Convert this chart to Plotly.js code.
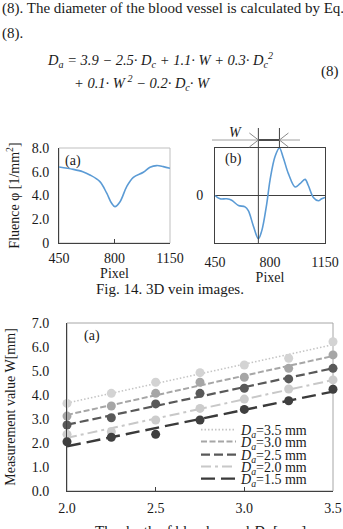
<!DOCTYPE html>
<html>
<head>
<meta charset="utf-8">
<script src="https://cdn.plot.ly/plotly-3.0.1.min.js"></script>
<style>
  html, body { margin: 0; padding: 0; background: #fff; }
  #fig { width: 343px; height: 529px; }
</style>
</head>
<body>
<div id="fig"></div>
<script>
// ---- (a) fluence profile across the vein ----
const pixelA = [450, 540, 600, 645, 708, 751, 782, 803, 835, 877, 919, 982, 1024, 1066, 1108, 1150];
const fluenceA = [6.4, 6.2, 6.0, 5.73, 5.17, 4.19, 3.34, 3.06, 3.48, 4.75, 5.53, 5.96, 6.38, 6.52, 6.43, 6.29];

// ---- (b) differentiated profile (arbitrary units) ----
const pixelB = [450, 482, 524, 556, 599, 641, 662, 694, 726, 747, 779, 800, 832, 860, 885, 917, 960, 991, 1023, 1044, 1076, 1108, 1129, 1150];
const signalB = [0, -0.07, -0.07, -0.1, -0.21, -0.24, -0.32, -0.64, -0.91, -0.75, -0.18, 0.32, 0.82, 1.0, 0.79, 0.46, 0.18, 0.25, 0.34, 0.21, -0.04, -0.11, -0.07, -0.04];

// ---- measured width W versus vessel depth Dc, one list per diameter Da ----
const depthDc = [2.0, 2.25, 2.5, 2.75, 3.0, 3.25, 3.5];
const widthDa35 = [3.65, 4.07, 4.53, 4.93, 5.25, 5.53, 6.22];
const widthDa30 = [3.12, 3.54, 4.07, 4.53, 4.74, 5.11, 5.67];
const widthDa25 = [2.75, 3.05, 3.63, 4.07, 4.28, 4.67, 5.11];
const widthDa20 = [2.36, 2.47, 2.96, 3.44, 3.83, 4.25, 4.63];
const widthDa15 = [2.05, 2.24, 2.36, 2.96, 3.40, 3.76, 4.24];
const seriesNames = ['<i>D</i><sub><i>a</i></sub>=3.5 mm', '<i>D</i><sub><i>a</i></sub>=3.0 mm',
  '<i>D</i><sub><i>a</i></sub>=2.5 mm', '<i>D</i><sub><i>a</i></sub>=2.0 mm', '<i>D</i><sub><i>a</i></sub>=1.5 mm'];
const depthTitle = 'The depth of blood vessel <i>D</i><sub><i>c</i></sub> [mm]';

// ---- figure geometry (pixel -> paper fraction) ----
const FW = 343, FH = 529;
const fx = p => p / FW;
const fy = p => 1 - p / FH;

const serif = 'Liberation Serif, Times New Roman, serif';
const ink = '#1a1a1a';
const axisDark = '#404040';
const frameLight = '#bfbfbf';
const blue = '#5B9BD5';

// least-squares straight line through one series
function linearFit(xs, ys) {
  const n = xs.length;
  const mx = xs.reduce((a, b) => a + b, 0) / n;
  const my = ys.reduce((a, b) => a + b, 0) / n;
  let sxy = 0, sxx = 0;
  for (let i = 0; i < n; i++) { sxy += (xs[i] - mx) * (ys[i] - my); sxx += (xs[i] - mx) ** 2; }
  const k = sxy / sxx;
  const x0 = xs[0], x1 = xs[n - 1];
  return { x: [x0, x1], y: [my + k * (x0 - mx), my + k * (x1 - mx)] };
}

const seriesW = [widthDa35, widthDa30, widthDa25, widthDa20, widthDa15];
const styles = [
  { line: '#c4c4c4', marker: '#d3d3d3', dash: '1.5px,2px', width: 1.6 },
  { line: '#a6a6a6', marker: '#a6a6a6', dash: '6px,2.5px', width: 2 },
  { line: '#595959', marker: '#595959', dash: '9px,4px', width: 2.2 },
  { line: '#c8c8c8', marker: '#cccccc', dash: '10px,4px,3px,4px', width: 2 },
  { line: '#3a3a3a', marker: '#3f3f3f', dash: '14px,6px', width: 2.4 }
];
const legendIds = ['legend', 'legend2', 'legend3', 'legend4', 'legend5'];
const legendRowsPx = [430, 442, 455, 467, 479];

const traces = [
  { x: pixelA, y: fluenceA, xaxis: 'x', yaxis: 'y', mode: 'lines', showlegend: false,
    line: { color: blue, width: 1.6, shape: 'spline', smoothing: 1 }, hoverinfo: 'skip' },
  { x: pixelB, y: signalB, xaxis: 'x2', yaxis: 'y2', mode: 'lines', showlegend: false,
    line: { color: blue, width: 1.6, shape: 'spline', smoothing: 1 }, hoverinfo: 'skip' }
];

seriesW.forEach((ys, i) => {
  const fit = linearFit(depthDc, ys);
  traces.push({
    x: fit.x, y: fit.y, xaxis: 'x3', yaxis: 'y3', mode: 'lines', name: seriesNames[i],
    legend: legendIds[i], showlegend: true,
    line: { color: styles[i].line, width: styles[i].width, dash: styles[i].dash }
  });
});
seriesW.forEach((ys, i) => {
  traces.push({
    x: depthDc, y: ys, xaxis: 'x3', yaxis: 'y3', mode: 'markers', showlegend: false,
    cliponaxis: false, marker: { color: styles[i].marker, size: 9 }
  });
});

// edges of the vein taken from the extremes of the differentiated profile
let iMin = 0, iMax = 0;
signalB.forEach((v, i) => { if (v < signalB[iMin]) iMin = i; if (v > signalB[iMax]) iMax = i; });
const edgeL = pixelB[iMin], edgeR = pixelB[iMax];

const baseAxis = { showgrid: false, zeroline: false, showline: true, linecolor: axisDark, linewidth: 1,
  tickfont: { family: serif, size: 14, color: ink }, tickcolor: axisDark };

const layout = {
  width: FW, height: FH,
  margin: { l: 0, r: 0, t: 0, b: 0 },
  paper_bgcolor: '#fff', plot_bgcolor: 'rgba(0,0,0,0)',
  font: { family: serif, size: 14, color: ink },
  xaxis: Object.assign({}, baseAxis, {
    domain: [fx(59), fx(170)], anchor: 'y', range: [450, 1150], tickvals: [450, 800, 1150],
    ticks: 'inside', ticklen: 4, ticklabelstandoff: 2,
    title: { text: 'Pixel', standoff: 1, font: { family: serif, size: 14, color: ink } }
  }),
  yaxis: Object.assign({}, baseAxis, {
    domain: [fy(243), fy(148)], anchor: 'x', range: [0, 8],
    tickvals: [0, 2, 4, 6, 8], ticktext: ['0', '2.0', '4.0', '6.0', '8.0'], ticks: '', ticklabelstandoff: 6,
    title: { text: 'Fluence φ [1/mm<sup>2</sup>]', standoff: 8, font: { family: serif, size: 14, color: ink } }
  }),
  xaxis2: Object.assign({}, baseAxis, {
    domain: [fx(215), fx(325)], anchor: 'y2', range: [450, 1150], tickvals: [450, 800, 1150],
    mirror: true, ticks: '', ticklabelstandoff: 6,
    title: { text: 'Pixel', standoff: 1, font: { family: serif, size: 14, color: ink } }
  }),
  yaxis2: Object.assign({}, baseAxis, {
    domain: [fy(243), fy(148)], anchor: 'x2', range: [-1, 1], tickvals: [0], ticktext: ['0'],
    mirror: true, ticks: '', ticklabelstandoff: 8,
    zeroline: true, zerolinecolor: axisDark, zerolinewidth: 1
  }),
  xaxis3: Object.assign({}, baseAxis, {
    domain: [fx(67), fx(333)], anchor: 'y3', range: [2, 3.5], dtick: 0.5, tickformat: '.1f',
    ticks: 'inside', ticklen: 4, ticklabelstandoff: 4
  }),
  yaxis3: Object.assign({}, baseAxis, {
    domain: [fy(491), fy(323)], anchor: 'x3', range: [0, 7], dtick: 1, tickformat: '.1f',
    ticks: '', ticklabelstandoff: 14,
    title: { text: 'Measurement value W[mm]', standoff: 12, font: { family: serif, size: 14, color: ink } }
  }),
  shapes: [
    // light frames around (a) and the main chart
    { type: 'rect', xref: 'x domain', yref: 'y domain', x0: 0, x1: 1, y0: 0, y1: 1,
      line: { color: frameLight, width: 1 }, layer: 'below' },
    { type: 'rect', xref: 'x3 domain', yref: 'y3 domain', x0: 0, x1: 1, y0: 0, y1: 1,
      line: { color: '#a6a6a6', width: 1 }, layer: 'below' },
    // vein edges in (b) and the W dimension above it
    { type: 'line', xref: 'x2', yref: 'paper', x0: edgeL, x1: edgeL, y0: fy(243), y1: fy(128),
      line: { color: axisDark, width: 1 } },
    { type: 'line', xref: 'x2', yref: 'paper', x0: edgeR, x1: edgeR, y0: fy(148), y1: fy(128),
      line: { color: axisDark, width: 1 } },
    { type: 'line', xref: 'paper', yref: 'paper', x0: fx(212), x1: fx(300), y0: fy(140), y1: fy(140),
      line: { color: '#a0a0a0', width: 1 } },
    { type: 'line', xref: 'x2', yref: 'paper', x0: edgeL, x1: edgeR, y0: fy(140), y1: fy(140),
      line: { color: '#202020', width: 1.5 } },
    { type: 'path', xref: 'x2', xsizemode: 'pixel', xanchor: edgeL, yref: 'paper', ysizemode: 'pixel',
      yanchor: fy(140), path: 'M-9,7 L0,0 L-9,-7', line: { color: '#8a8a8a', width: 1 } },
    { type: 'path', xref: 'x2', xsizemode: 'pixel', xanchor: edgeR, yref: 'paper', ysizemode: 'pixel',
      yanchor: fy(140), path: 'M9,7 L0,0 L9,-7', line: { color: '#8a8a8a', width: 1 } }
  ],
  annotations: [
    { text: '(8). The diameter of the blood vessel is calculated by Eq.', x: fx(0), y: fy(8),
      font: { size: 15 } },
    { text: '(8).', x: fx(0), y: fy(33), font: { size: 15 } },
    { text: '<i>D<sub>a</sub> = 3.9 − 2.5· D<sub>c</sub> + 1.1· W + 0.3· D<sub>c</sub><sup>2</sup></i>',
      x: fx(45), y: fy(60), font: { size: 14.5 } },
    { text: '<i>+ 0.1· W<sup> 2</sup> − 0.2· D<sub>c</sub>· W</i>', x: fx(72), y: fy(83), font: { size: 14.5 } },
    { text: '(8)', x: fx(341), y: fy(72), xanchor: 'right', font: { size: 15 } },
    { text: '<i>W</i>', x: fx(227), y: fy(133), font: { size: 14 } },
    { text: '(a)', x: fx(63), y: fy(161), font: { size: 14 } },
    { text: '(b)', x: fx(223), y: fy(159), font: { size: 14 } },
    { text: 'Fig. 14. 3D vein images.', x: fx(170), y: fy(289), xanchor: 'center', font: { size: 15 } },
    { text: '(a)', x: fx(82), y: fy(336), font: { size: 14 } },
    // x title of the lower chart sits at the page's bottom edge
    { text: depthTitle, x: fx(200), y: fy(532), xanchor: 'center', font: { size: 15 } }
  ].map(a => Object.assign({ xref: 'paper', yref: 'paper', showarrow: false, xanchor: 'left',
    yanchor: 'middle' }, a, { font: Object.assign({ family: serif, color: ink }, a.font) }))
};

legendIds.forEach((id, i) => {
  layout[id] = {
    x: fx(196), xanchor: 'left', y: fy(legendRowsPx[i]), yanchor: 'middle',
    bgcolor: 'rgba(0,0,0,0)', borderwidth: 0, itemwidth: 35,
    font: { family: serif, size: 14, color: ink }
  };
});

Plotly.newPlot('fig', traces, layout, { staticPlot: true, displayModeBar: false });
</script>
</body>
</html>
